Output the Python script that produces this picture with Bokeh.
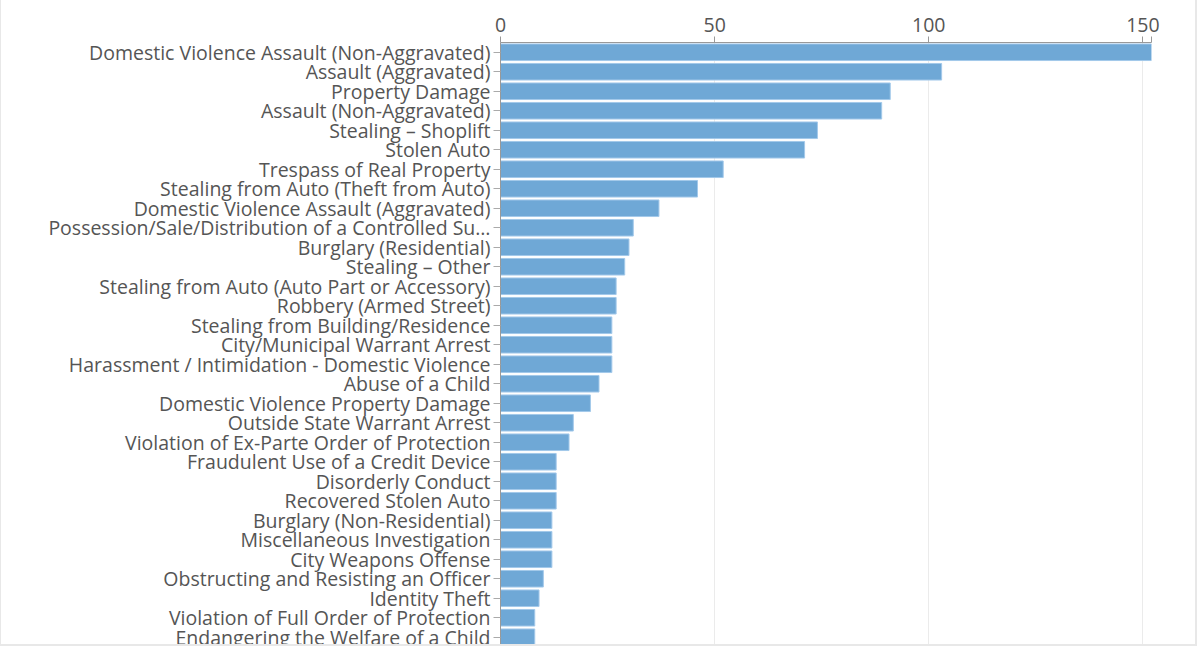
from bokeh.plotting import figure
from bokeh.layouts import column
from bokeh.models import Range1d, FixedTicker
from bokeh.embed import file_html
from bokeh.resources import INLINE

# offense categories, top to bottom
offenses = [
    "Domestic Violence Assault (Non-Aggravated)",
    "Assault (Aggravated)",
    "Property Damage",
    "Assault (Non-Aggravated)",
    "Stealing \u2013 Shoplift",
    "Stolen Auto",
    "Trespass of Real Property",
    "Stealing from Auto (Theft from Auto)",
    "Domestic Violence Assault (Aggravated)",
    "Possession/Sale/Distribution of a Controlled Su\u2026",
    "Burglary (Residential)",
    "Stealing \u2013 Other",
    "Stealing from Auto (Auto Part or Accessory)",
    "Robbery (Armed Street)",
    "Stealing from Building/Residence",
    "City/Municipal Warrant Arrest",
    "Harassment / Intimidation - Domestic Violence",
    "Abuse of a Child",
    "Domestic Violence Property Damage",
    "Outside State Warrant Arrest",
    "Violation of Ex-Parte Order of Protection",
    "Fraudulent Use of a Credit Device",
    "Disorderly Conduct",
    "Recovered Stolen Auto",
    "Burglary (Non-Residential)",
    "Miscellaneous Investigation",
    "City Weapons Offense",
    "Obstructing and Resisting an Officer",
    "Identity Theft",
    "Violation of Full Order of Protection",
    "Endangering the Welfare of a Child",
]
counts = [152, 103, 91, 89, 74, 71, 52, 46, 37, 31, 30, 29, 27, 27, 26, 26, 26,
          23, 21, 17, 16, 13, 13, 13, 12, 12, 12, 10, 9, 8, 8]
x_ticks = [0, 50, 100, 150]

rows = list(range(len(offenses)))
x_max = max(counts)
band = 19.5
fig_h = 666
top = 42

# the figure is a bit taller than its box; the box cuts the last row off
p = figure(width=1194, height=fig_h, output_backend="svg", toolbar_location=None,
           x_axis_location="above",
           x_range=Range1d(0, x_max),
           y_range=Range1d(-0.5 + (fig_h - top) / band, -0.5),
           min_border_left=499, min_border_top=top, min_border_right=44,
           min_border_bottom=0)
p.height_policy = "fixed"
p.width_policy = "fixed"
p.outline_line_color = None
p.background_fill_color = "white"
p.border_fill_color = "white"

p.hbar(y=rows, right=counts, left=0, height=0.85,
       fill_color="#6fa8d6", line_color="#a3c9ea", line_width=1)

xa = p.xaxis[0]
xa.ticker = FixedTicker(ticks=x_ticks + [x_max])
xa.major_label_overrides = {x_max: ""}
xa.minor_tick_line_color = None
xa.axis_line_color = "#999999"
xa.major_tick_line_color = "#999999"
xa.major_tick_out = 6
xa.major_tick_in = 0
xa.major_label_text_font = "Open Sans"
xa.major_label_text_font_size = "19.5px"
xa.major_label_text_color = "#555555"
xa.major_label_standoff = 5

ya = p.yaxis[0]
ya.ticker = FixedTicker(ticks=rows)
ya.major_label_overrides = {i: name for i, name in zip(rows, offenses)}
ya.minor_tick_line_color = None
ya.axis_line_color = "#999999"
ya.major_tick_line_color = "#aaaaaa"
ya.major_tick_out = 7
ya.major_tick_in = 0
ya.major_label_text_font = "Open Sans"
ya.major_label_text_font_size = "19.5px"
ya.major_label_text_color = "#555555"
ya.major_label_standoff = 3

p.xgrid.ticker = FixedTicker(ticks=x_ticks)
p.xgrid.grid_line_color = "#ebebeb"
p.ygrid.grid_line_color = None

box = column(p, styles={"overflow": "hidden",
                        "max-height": "646px",
                        "box-sizing": "border-box",
                        "border-left": "1px solid #e8e8e8",
                        "border-right": "2px solid #e8e8e8",
                        "border-bottom": "2px solid #e8e8e8"})

open("out.html", "w").write(file_html(box, INLINE))
